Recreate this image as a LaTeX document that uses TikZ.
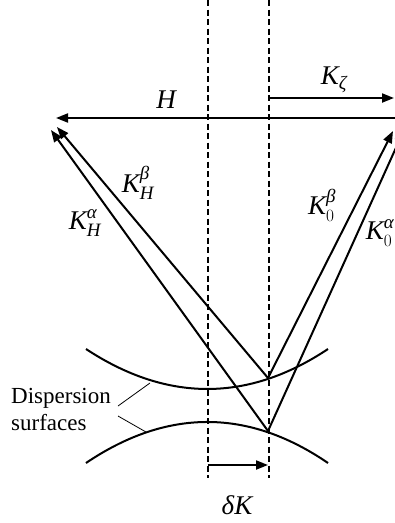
\documentclass[tikz,border=0pt]{standalone}
\usepackage{fontspec}
\usepackage{amsmath}
\setmainfont{Liberation Serif}
\usetikzlibrary{arrows.meta, positioning}

\begin{document}
\begin{tikzpicture}[x=1pt, y=-1pt,
  vec/.style={-{Triangle[length=12pt, width=9pt]}, line width=2pt},
  guide/.style={line width=2pt, dash pattern=on 6pt off 3.5pt},
  surf/.style={line width=2pt},
  lead/.style={line width=0.8pt},
  lbl/.style={font=\fontsize{27}{30}\selectfont, inner sep=0pt},
  txt/.style={font=\fontsize{23}{27}\selectfont, align=left, inner sep=0pt}
]
\clip (0,0) rectangle (395,523);
% tie points on the two branches
\coordinate (tieB) at (268,378);
\coordinate (tieA) at (268,431);
\coordinate (tipHa) at (51,130);
\coordinate (tipHb) at (57,127);
\coordinate (tipOb) at (393,131);
\coordinate (tipOa) at (404,130);
\coordinate (hStart) at (400,118);
\coordinate (hTip) at (56,118);
\coordinate (zStart) at (269,98);
\coordinate (zTip) at (394,98);
\coordinate (gLtop) at (207.5,0);
\coordinate (gLbot) at (207.5,478);
\coordinate (gRtop) at (269,0);
\coordinate (gRbot) at (269,478);
\coordinate (dStart) at (207.5,465);
\coordinate (dTip) at (268,465);
% dispersion surfaces
\draw[surf] (86,349) .. controls (167,402.3) and (248,402.3) .. (328,349);
\draw[surf] (86,463) .. controls (167,408.3) and (248,408.3) .. (328,463);
% guides
\draw[guide] (gLtop) -- (gLbot);
\draw[guide] (gRtop) -- (gRbot);
% vectors
\draw[vec] (hStart) -- (hTip);
\draw[vec] (zStart) -- (zTip);
\draw[vec] (tieA) -- (tipHa);
\draw[vec] (tieB) -- (tipHb);
\draw[vec] (tieB) -- (tipOb);
\draw[vec] (tieA) -- (tipOa);
\draw[vec] (dStart) -- (dTip);
% labels
\node[lbl] (lH) at (166,100) {$\textit{H}$};
\node[lbl] (lZ) at (334,80) {$\textit{K}_{\textit{ζ}}$};
\node[lbl] (lHb) at (138,183) {$\textit{K}_{\textit{H}}^{\textit{β}}$};
\node[lbl] (lHa) at (85,223) {$\textit{K}_{\textit{H}}^{\textit{α}}$};
\node[lbl] (lOb) at (322,205) {$\textit{K}_{0}^{\textit{β}}$};
\node[lbl] (lOa) at (380,233) {$\textit{K}_{0}^{\textit{α}}$};
\node[lbl] (lD) at (237,505) {$\textit{δK}$};
\node[txt, anchor=west] (disp) at (11,409) {Dispersion\\surfaces};
\coordinate (leadA) at (118,406);
\coordinate (leadB) at (118,416);
\coordinate (onUp) at (150,383);
\coordinate (onLow) at (146,432);
\draw[lead] (leadA) -- (onUp);
\draw[lead] (leadB) -- (onLow);
\end{tikzpicture}
\end{document}
